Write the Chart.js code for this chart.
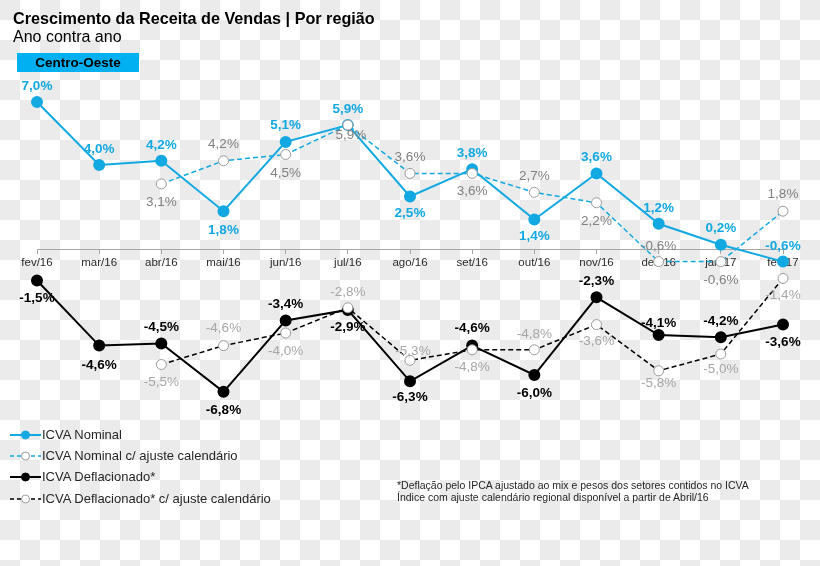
<!DOCTYPE html>
<html>
<head>
<meta charset="utf-8">
<script src="https://cdn.jsdelivr.net/npm/chart.js@4/dist/chart.umd.min.js"></script>
<style>
  html, body { margin: 0; padding: 0; }
  body {
    width: 820px; height: 566px; overflow: hidden; position: relative;
    font-family: "Liberation Sans", Arial, sans-serif;
    background-color: #fff;
    background-image: conic-gradient(#fff 0 25%, #ebebeb 0 50%, #fff 0 75%, #ebebeb 0);
    background-size: 40px 40px;
  }
  #chart { position: absolute; left: 0; top: 0; }
  .txt { position: absolute; white-space: nowrap; color: #000; }
  #title { left: 13px; top: 8px; font-size: 16.2px; font-weight: bold; line-height: 20px; }
  #subtitle { left: 13px; top: 27px; font-size: 16px; line-height: 20px; }
  #region { left: 17px; top: 53px; width: 122px; height: 19px; background: #00b0f0;
    font-size: 13.5px; font-weight: bold; text-align: center; line-height: 19px; }
  .leg { position: absolute; left: 10px; height: 20px; }
  .leg svg { position: absolute; left: 0; top: 0; }
  .leg span { position: absolute; left: 32px; top: 0; line-height: 20px; font-size: 13px; color: #262626; white-space: nowrap; }
  #note { left: 397px; top: 479px; font-size: 10.5px; line-height: 12px; color: #262626; }
</style>
</head>
<body>
<canvas id="chart" width="820" height="566"></canvas>
<div class="txt" id="title">Crescimento da Receita de Vendas | Por região</div>
<div class="txt" id="subtitle">Ano contra ano</div>
<div class="txt" id="region">Centro-Oeste</div>
<div id="legend"></div>
<div class="txt" id="note">*Deflação pelo IPCA ajustado ao mix e pesos dos setores contidos no ICVA<br>Índice com ajuste calendário regional disponível a partir de Abril/16</div>
<script>
// dados (% ano contra ano)
var months = ['fev/16', 'mar/16', 'abr/16', 'mai/16', 'jun/16', 'jul/16', 'ago/16', 'set/16', 'out/16', 'nov/16', 'dez/16', 'jan/17', 'fev/17'];
var nominal = [7.0, 4.0, 4.2, 1.8, 5.1, 5.9, 2.5, 3.8, 1.4, 3.6, 1.2, 0.2, -0.6];
var nominalAdj = [null, null, 3.1, 4.2, 4.5, 5.9, 3.6, 3.6, 2.7, 2.2, -0.6, -0.6, 1.8];
var deflated = [-1.5, -4.6, -4.5, -6.8, -3.4, -2.9, -6.3, -4.6, -6.0, -2.3, -4.1, -4.2, -3.6];
var deflatedAdj = [null, null, -5.5, -4.6, -4.0, -2.8, -5.3, -4.8, -4.8, -3.6, -5.8, -5.0, -1.4];
var seriesNames = ['ICVA Nominal', 'ICVA Nominal c/ ajuste calendário', 'ICVA Deflacionado*', 'ICVA Deflacionado* c/ ajuste calendário'];

var BLUE = '#12a9e2';
var FONT = '"Liberation Sans", Arial, sans-serif';
Chart.defaults.font.family = FONT;

// rótulos de valor desenhados junto aos pontos
var valueLabels = {
    id: 'valueLabels',
    afterDatasetsDraw: function (chart) {
        var ctx = chart.ctx;
        chart.data.datasets.forEach(function (ds, di) {
            var meta = chart.getDatasetMeta(di);
            ctx.save();
            ctx.font = ds.lblFont;
            ctx.fillStyle = ds.lblColor;
            ctx.textAlign = 'center';
            ctx.textBaseline = 'middle';
            meta.data.forEach(function (pt, i) {
                var v = ds.data[i];
                if (v === null || v === undefined) return;
                var dx = ds.lblDx ? ds.lblDx[i] : 0;
                ctx.fillText(v.toFixed(1).replace('.', ',') + '%', pt.x + dx, pt.y + ds.lblDy[i]);
            });
            ctx.restore();
        });
    }
};

var chart = new Chart(document.getElementById('chart'), {
    type: 'line',
    data: {
        labels: months,
        datasets: [{
                label: seriesNames[0],
                data: nominal,
                borderColor: BLUE,
                backgroundColor: BLUE,
                borderWidth: 2,
                pointRadius: 5,
                pointBackgroundColor: BLUE,
                pointBorderColor: BLUE,
                tension: 0,
                order: 2,
                lblFont: 'bold 13.5px ' + FONT,
                lblColor: BLUE,
                lblDy: [-16, -16, -16, 19, -17, -16, 17, -16, 17, -16, -16, -17, -15]
            }, {
                label: seriesNames[1],
                data: nominalAdj,
                borderColor: BLUE,
                borderWidth: 1.5,
                borderDash: [5, 3],
                pointRadius: 5,
                pointBackgroundColor: '#fff',
                pointBorderColor: '#9a9a9a',
                pointBorderWidth: 1,
                tension: 0,
                order: 1,
                lblFont: '13.5px ' + FONT,
                lblColor: '#808080',
                lblDy: [0, 0, 18, -17, 19, 10, -16, 18, -16, 18, -15, 19, -17],
                lblDx: [0, 0, 0, 0, 0, 3, 0, 0, 0, 0, 0, 0, 0]
            }, {
                label: seriesNames[2],
                data: deflated,
                borderColor: '#000',
                backgroundColor: '#000',
                borderWidth: 2,
                pointRadius: 5,
                pointBackgroundColor: '#000',
                pointBorderColor: '#000',
                tension: 0,
                order: 4,
                lblFont: 'bold 13.5px ' + FONT,
                lblColor: '#000',
                lblDy: [18, 20, -16, 18, -16, 17, 16, -17, 18, -16, -12, -16, 18]
            }, {
                label: seriesNames[3],
                data: deflatedAdj,
                borderColor: '#000',
                borderWidth: 1.5,
                borderDash: [5, 3],
                pointRadius: 5,
                pointBackgroundColor: '#fff',
                pointBorderColor: '#9a9a9a',
                pointBorderWidth: 1,
                tension: 0,
                order: 3,
                lblFont: '13.5px ' + FONT,
                lblColor: '#a6a6a6',
                lblDy: [0, 0, 18, -17, 18, -16, -9, 17, -16, 17, 12, 15, 17],
                lblDx: [0, 0, 0, 0, 0, 0, 3, 0, 0, 0, 0, 0, 0]
            }]
    },
    options: {
        responsive: false,
        animation: false,
        layout: {
            padding: { top: 81, bottom: 149, left: 37, right: 37 }
        },
        scales: {
            x: {
                type: 'category',
                offset: false,
                position: { y: 0 },
                border: { display: true, color: '#a6a6a6', width: 1 },
                grid: { drawOnChartArea: false, drawTicks: true, tickLength: 4, color: '#a6a6a6' },
                ticks: { color: '#2b2b2b', font: { size: 11.5 }, padding: 3, autoSkip: false, maxRotation: 0 }
            },
            y: {
                display: false,
                min: -8,
                max: 8
            }
        },
        plugins: {
            legend: { display: false },
            tooltip: { enabled: false }
        }
    },
    plugins: [valueLabels]
});

// legenda manual (linha + marcador)
var legendStyles = [
    { color: BLUE, dash: '', fill: BLUE, stroke: BLUE, w: 2 },
    { color: BLUE, dash: '4 3', fill: '#fff', stroke: '#9a9a9a', w: 1.5 },
    { color: '#000', dash: '', fill: '#000', stroke: '#000', w: 2 },
    { color: '#000', dash: '4 3', fill: '#fff', stroke: '#9a9a9a', w: 1.5 }
];
var legendTop = [425, 446, 467, 489];
var legend = document.getElementById('legend');
seriesNames.forEach(function (name, i) {
    var s = legendStyles[i];
    var d = document.createElement('div');
    d.className = 'leg';
    d.style.top = legendTop[i] + 'px';
    d.innerHTML = '<svg width="32" height="20"><line x1="0" y1="10" x2="31" y2="10" stroke="' + s.color +
        '" stroke-width="' + s.w + '"' + (s.dash ? ' stroke-dasharray="' + s.dash + '"' : '') + '/>' +
        '<circle cx="15.5" cy="10" r="4" fill="' + s.fill + '" stroke="' + s.stroke + '" stroke-width="1"/></svg>' +
        '<span>' + name + '</span>';
    legend.appendChild(d);
});
</script>
</body>
</html>
